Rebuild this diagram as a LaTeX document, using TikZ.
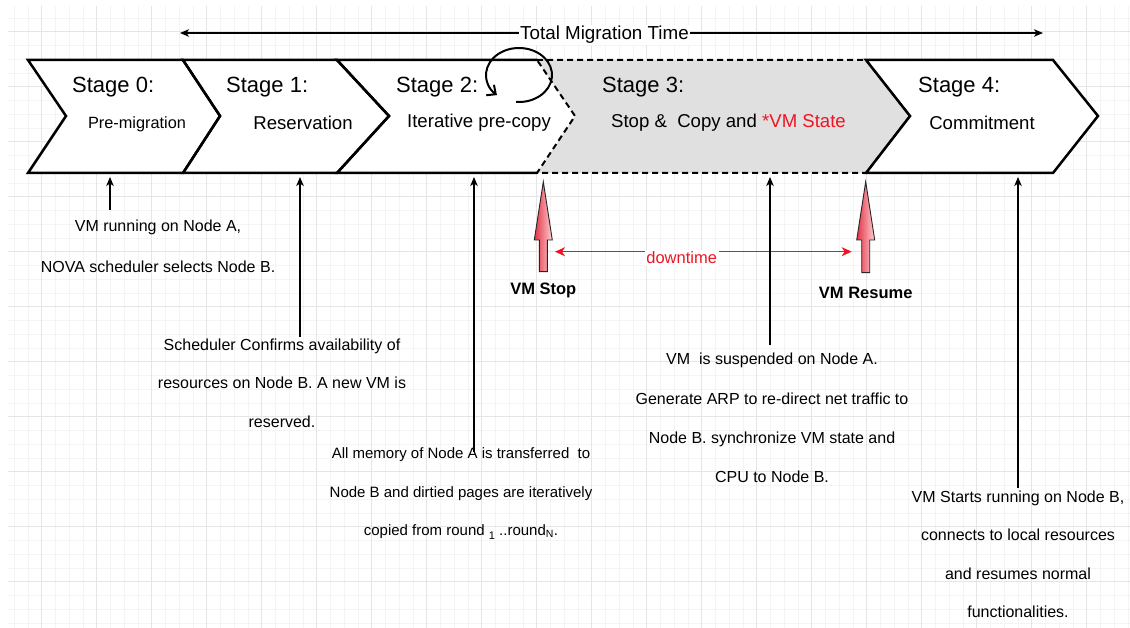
\documentclass[tikz,border=0pt]{standalone}
\usepackage{fontspec}
\setmainfont{Liberation Sans}
\usetikzlibrary{arrows.meta}

\definecolor{gridmajor}{RGB}{229,229,229}
\definecolor{gridminor}{RGB}{244,244,244}
\definecolor{stagegray}{RGB}{224,224,224}
\definecolor{alertred}{RGB}{240,20,35}
\definecolor{blockred}{RGB}{226,52,70}
\definecolor{blockpink}{RGB}{255,205,210}

\begin{document}
\begin{tikzpicture}[x=1pt,y=-1pt,
  stagebox/.style={draw=black, line width=2.5pt, line join=miter},
  heading/.style={anchor=west, inner sep=0pt, font=\fontsize{22}{26}\selectfont},
  subtitle/.style={inner sep=0pt, font=\fontsize{18.6}{22}\selectfont},
  note/.style={align=center, inner sep=0pt, font=\fontsize{16}{38.5}\selectfont},
  pointer/.style={-{Stealth[length=9pt,width=7.5pt,inset=2.5pt]}, line width=1.2pt},
  redpointer/.style={-{Stealth[length=10pt,width=9pt,inset=3pt]}, draw=alertred, line width=1.5pt},
  blockarrow/.style={draw=black!85, line width=0.9pt, left color=blockred, right color=blockpink},
  marker/.style={inner sep=0pt, font=\bfseries\fontsize{16.5}{20}\selectfont}
]
\useasboundingbox (0,0) rectangle (1130,628);
\fill[white] (0,0) rectangle (1130,628);

% background grid
\begin{scope}
  \clip (8,7) rectangle (1130,628);
  \foreach \i in {0,...,82} {
    \pgfmathsetmacro\gx{0.45+13.75*\i}
    \draw[gridminor, line width=0.8pt] (\gx,0) -- (\gx,628);
  }
  \foreach \j in {0,...,46} {
    \pgfmathsetmacro\gy{4.2+13.75*\j}
    \draw[gridminor, line width=0.8pt] (0,\gy) -- (1130,\gy);
  }
  \foreach \i in {0,...,21} {
    \pgfmathsetmacro\gx{-13.3+55*\i}
    \draw[gridmajor, line width=1pt] (\gx,0) -- (\gx,628);
  }
  \foreach \j in {0,...,12} {
    \pgfmathsetmacro\gy{-23.3+55*\j}
    \draw[gridmajor, line width=1pt] (0,\gy) -- (1130,\gy);
  }
\end{scope}

% stage chevrons: fills first, outlines afterwards
\fill[white] (28,60) -- (183,60) -- (220,116) -- (183,173) -- (28,173) -- (66,116) -- cycle;
\fill[white] (183,60) -- (337,60) -- (389,116) -- (337,173) -- (183,173) -- (220,116) -- cycle;
\fill[white] (337,60) -- (537,60) -- (575,116) -- (537,173) -- (337,173) -- (389,116) -- cycle;
\fill[white] (866,60) -- (1053,60) -- (1098,116) -- (1053,173) -- (866,173) -- (910,116) -- cycle;

\draw[stagebox] (28,60) -- (183,60) -- (220,116) -- (183,173) -- (28,173) -- (66,116) -- cycle;
\draw[stagebox] (183,60) -- (337,60) -- (389,116) -- (337,173) -- (183,173) -- (220,116) -- cycle;
\draw[stagebox] (537,60) -- (337,60) -- (389,116) -- (337,173) -- (537,173);
\draw[fill=stagegray, line width=2pt, dash pattern=on 6pt off 4pt]
  (537,60) -- (866,60) -- (910,116) -- (866,173) -- (537,173) -- (575,116) -- cycle;
\draw[stagebox] (866,60) -- (1053,60) -- (1098,116) -- (1053,173) -- (866,173) -- (910,116) -- cycle;

% stage titles
\node[heading] (h0) at (72,87) {Stage 0:};
\node[heading] (h1) at (226,87) {Stage 1:};
\node[heading] (h2) at (396,87) {Stage 2:};
\node[heading] (h3) at (602,87) {Stage 3:};
\node[heading] (h4) at (918,87) {Stage 4:};

\node[inner sep=0pt, font=\fontsize{16.3}{20}\selectfont] (d0) at (137,124) {Pre-migration};
\node[subtitle] (d1) at (303,123) {Reservation};
\node[subtitle] (d2) at (479,123) {Iterative pre-copy};
\node[subtitle] (d3) at (728.5,123) {Stop \&\ \ Copy and \textcolor{alertred}{*VM State}};
\node[subtitle] (d4) at (982,123) {Commitment};

% repeated pre-copy rounds
\draw[line width=2pt, -{Straight Barb[length=7pt,width=13pt]}]
  (519,75) ++(95:33 and 27) arc[start angle=95, end angle=-228, x radius=33, y radius=27];

% total migration time
\coordinate (tl) at (180,33);
\coordinate (tr) at (1043,33);
\node[fill=white, inner sep=1pt, font=\fontsize{18.8}{22}\selectfont] (ttl) at (604.5,35) {Total Migration Time};
\draw[pointer] (ttl.west |- tl) -- (tl);
\draw[pointer] (ttl.east |- tr) -- (tr);

% stop / resume markers
\path[blockarrow] (543.3,181.7) -- (552.3,240) -- (547.3,240) -- (547.3,271.7)
  -- (539.3,271.7) -- (539.3,240) -- (534.3,240) -- cycle;
\path[blockarrow] (865.7,181.7) -- (874.7,240) -- (869.7,240) -- (869.7,272.7)
  -- (861.7,272.7) -- (861.7,240) -- (856.7,240) -- cycle;
\node[marker] (stop) at (543.3,290) {VM Stop};
\node[marker] (resume) at (865.7,292.7) {VM Resume};

\coordinate (dl) at (555,251.7);
\coordinate (dr) at (851.7,251.7);
\node[fill=white, text=alertred, inner sep=1.5pt, font=\fontsize{16.5}{20}\selectfont] (dt) at (681.7,258) {downtime};
\draw[redpointer] (dt.west |- dl) -- (dl);
\draw[redpointer] (dt.east |- dr) -- (dr);

% explanatory notes
\node[note, font=\fontsize{16}{41}\selectfont] (n0) at (158,246.5) {VM running on Node A,\\NOVA scheduler selects Node B.};
\node[note] (n1) at (282,383) {Scheduler Confirms availability of\\resources on Node B. A new VM is\\reserved.};
\node[note, font=\fontsize{15}{38.5}\selectfont] (n2) at (461,493.5) {All memory of Node A is transferred\ \ to\\Node B and dirtied pages are iteratively\\copied from round \raisebox{-3.5pt}{\fontsize{11}{13}\selectfont 1} ..round\textsubscript{N}.};
\node[note, font=\fontsize{16}{39.3}\selectfont] (n3) at (772,418) {VM\ \ is suspended on Node A.\\Generate ARP to re-direct net traffic to\\Node B. synchronize VM state and\\CPU to Node B.};
\node[note] (n4) at (1018,554.5) {VM Starts running on Node B,\\connects to local resources\\and resumes normal\\functionalities.};

% pointers from notes to stages
\coordinate (c0) at (110,177);
\coordinate (c1) at (300,177);
\coordinate (c2) at (474,177);
\coordinate (c3) at (770,177);
\coordinate (c4) at (1018,177);
\coordinate (s0) at (110,210);
\coordinate (s1) at (300,337);
\coordinate (s2) at (474,452);
\coordinate (s3) at (770,345);
\coordinate (s4) at (1018,488);
\draw[pointer] (s0) -- (c0);
\draw[pointer] (s1) -- (c1);
\draw[pointer] (s2) -- (c2);
\draw[pointer] (s3) -- (c3);
\draw[pointer] (s4) -- (c4);
\end{tikzpicture}
\end{document}
